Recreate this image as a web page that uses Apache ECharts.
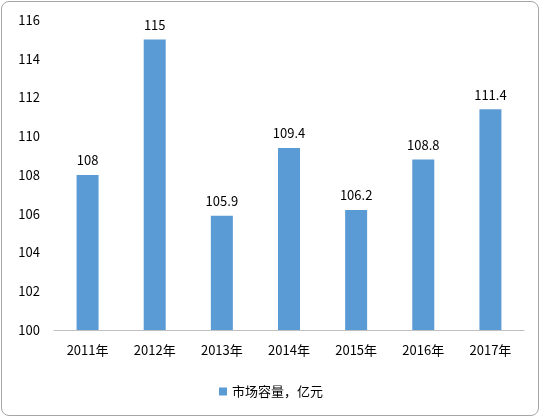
<!DOCTYPE html>
<html>
<head>
<meta charset="utf-8">
<script src="https://cdn.jsdelivr.net/npm/echarts@6/dist/echarts.min.js"></script>
<style>
  html, body { margin: 0; padding: 0; background: #fff; }
  #frame { position: absolute; left: 1px; top: 1px; width: 538px; height: 415px;
           border: 1px solid #a6a6a6; border-radius: 8px; box-sizing: border-box; }
  #main { position: absolute; left: 0; top: 0; width: 542px; height: 419px; }
</style>
</head>
<body>
<div id="frame"></div>
<div id="main"></div>
<script>
var years = ['2011年', '2012年', '2013年', '2014年', '2015年', '2016年', '2017年'];
var marketSize = [108, 115, 105.9, 109.4, 106.2, 108.8, 111.4];
var seriesName = '市场容量，亿元';

var chart = echarts.init(document.getElementById('main'));
chart.setOption({
  animation: false,
  textStyle: { fontFamily: 'Noto Sans CJK SC', color: '#000' },
  legend: {
    bottom: 16, left: 'center',
    icon: 'rect', itemWidth: 8, itemHeight: 8,
    textStyle: { fontSize: 13, color: '#000' },
    data: [seriesName]
  },
  grid: { left: 54, right: 18, top: 20, bottom: 89 },
  xAxis: {
    type: 'category', data: years,
    axisLine: { lineStyle: { color: '#bfbfbf' } },
    axisTick: { show: false },
    axisLabel: { fontSize: 13, color: '#000', margin: 14 }
  },
  yAxis: {
    type: 'value', min: 100, max: 116, interval: 2,
    splitLine: { show: false },
    axisLine: { show: false },
    axisLabel: { fontSize: 13, color: '#000', margin: 14 }
  },
  series: [{
    name: seriesName, type: 'bar', data: marketSize, barWidth: 22,
    itemStyle: { color: '#5b9bd5' },
    label: { show: true, position: 'top', fontSize: 13, color: '#000', distance: 8 }
  }]
});
</script>
</body>
</html>
